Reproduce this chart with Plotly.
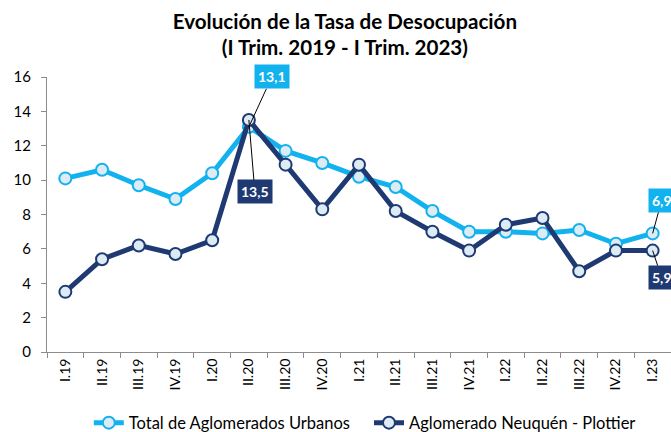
import plotly.graph_objects as go

categories = ["I.19", "II.19", "III.19", "IV.19", "I.20", "II.20", "III.20", "IV.20",
              "I.21", "II.21", "III.21", "IV.21", "I.22", "II.22", "III.22", "IV.22", "I.23"]
total_urbanos = [10.1, 10.6, 9.7, 8.9, 10.4, 13.1, 11.7, 11.0, 10.2, 9.6, 8.2, 7.0, 7.0, 6.9, 7.1, 6.3, 6.9]
neuquen_plottier = [3.5, 5.4, 6.2, 5.7, 6.5, 13.5, 10.9, 8.3, 10.9, 8.2, 7.0, 5.9, 7.4, 7.8, 4.7, 5.9, 5.9]
series_names = ["Total de Aglomerados Urbanos", "Aglomerado Neuquén - Plottier"]
y_ticks = [0, 2, 4, 6, 8, 10, 12, 14, 16]

LIGHT = "#12B2EE"
DARK = "#1F3A72"
FILL = "#DDEBF5"
FONT = "Lato"

fig = go.Figure()
for name, vals, col, leg in [(series_names[0], total_urbanos, LIGHT, "legend"),
                             (series_names[1], neuquen_plottier, DARK, "legend2")]:
    fig.add_trace(go.Scatter(
        x=categories, y=vals, name=name, mode="lines+markers",
        line=dict(color=col, width=5),
        marker=dict(symbol="circle", size=12, color=FILL, line=dict(color=col, width=2)),
        cliponaxis=False, legend=leg,
    ))

def label(idx, vals, col, ax, ay):
    fig.add_annotation(
        x=categories[idx], y=vals[idx], xref="x", yref="y",
        text="<b>" + f"{vals[idx]:.1f}".replace(".", ",") + "</b>",
        showarrow=True, arrowhead=0, arrowwidth=1, arrowcolor="#000000",
        ax=ax, ay=ay, bgcolor=col, borderpad=3,
        font=dict(color="white", size=14, family=FONT),
    )

i_peak = 5
i_last = len(categories) - 1
label(i_peak, total_urbanos, LIGHT, 23, -50)
label(i_peak, neuquen_plottier, DARK, 6, 72)
label(i_last, total_urbanos, LIGHT, 9, -33)
label(i_last, neuquen_plottier, DARK, 9, 27)

legend_style = dict(orientation="h", xanchor="left", y=-0.258, yanchor="middle",
                    font=dict(size=16.5, family=FONT), itemwidth=30,
                    bgcolor="rgba(0,0,0,0)")

fig.update_layout(
    width=671, height=432,
    margin=dict(l=47, r=0, t=77, b=80, autoexpand=False),
    paper_bgcolor="white", plot_bgcolor="white",
    font=dict(family=FONT, size=15, color="#000000"),
    title=dict(text="<b>Evolución de la Tasa de Desocupación<br>(I Trim. 2019 - I Trim. 2023)</b>",
               x=0.514, xanchor="center", xref="container",
               y=0.934, yanchor="middle", yref="container",
               font=dict(size=20.6, family=FONT, color="#000000")),
    showlegend=True,
    legend=dict(x=0.067, **legend_style),
    legend2=dict(x=0.516, **legend_style),
    xaxis=dict(type="category", showline=True, linecolor="#8C8C8C", linewidth=1,
               ticks="outside", tickson="boundaries", ticklen=5, tickcolor="#8C8C8C",
               tickangle=-90, showgrid=False, tickfont=dict(size=14), automargin=False,
               range=[-0.5, len(categories) - 0.5]),
    yaxis=dict(range=[0, 16], tickvals=y_ticks, showline=True, linecolor="#8C8C8C", linewidth=1,
               ticks="outside", ticklen=5, tickcolor="#8C8C8C", showgrid=False, zeroline=False,
               tickfont=dict(size=15), automargin=False, ticklabelstandoff=7),
)

fig.write_html("out.html", config={"displayModeBar": False},
               post_script="document.body.style.margin='0';document.body.style.overflow='hidden';")
